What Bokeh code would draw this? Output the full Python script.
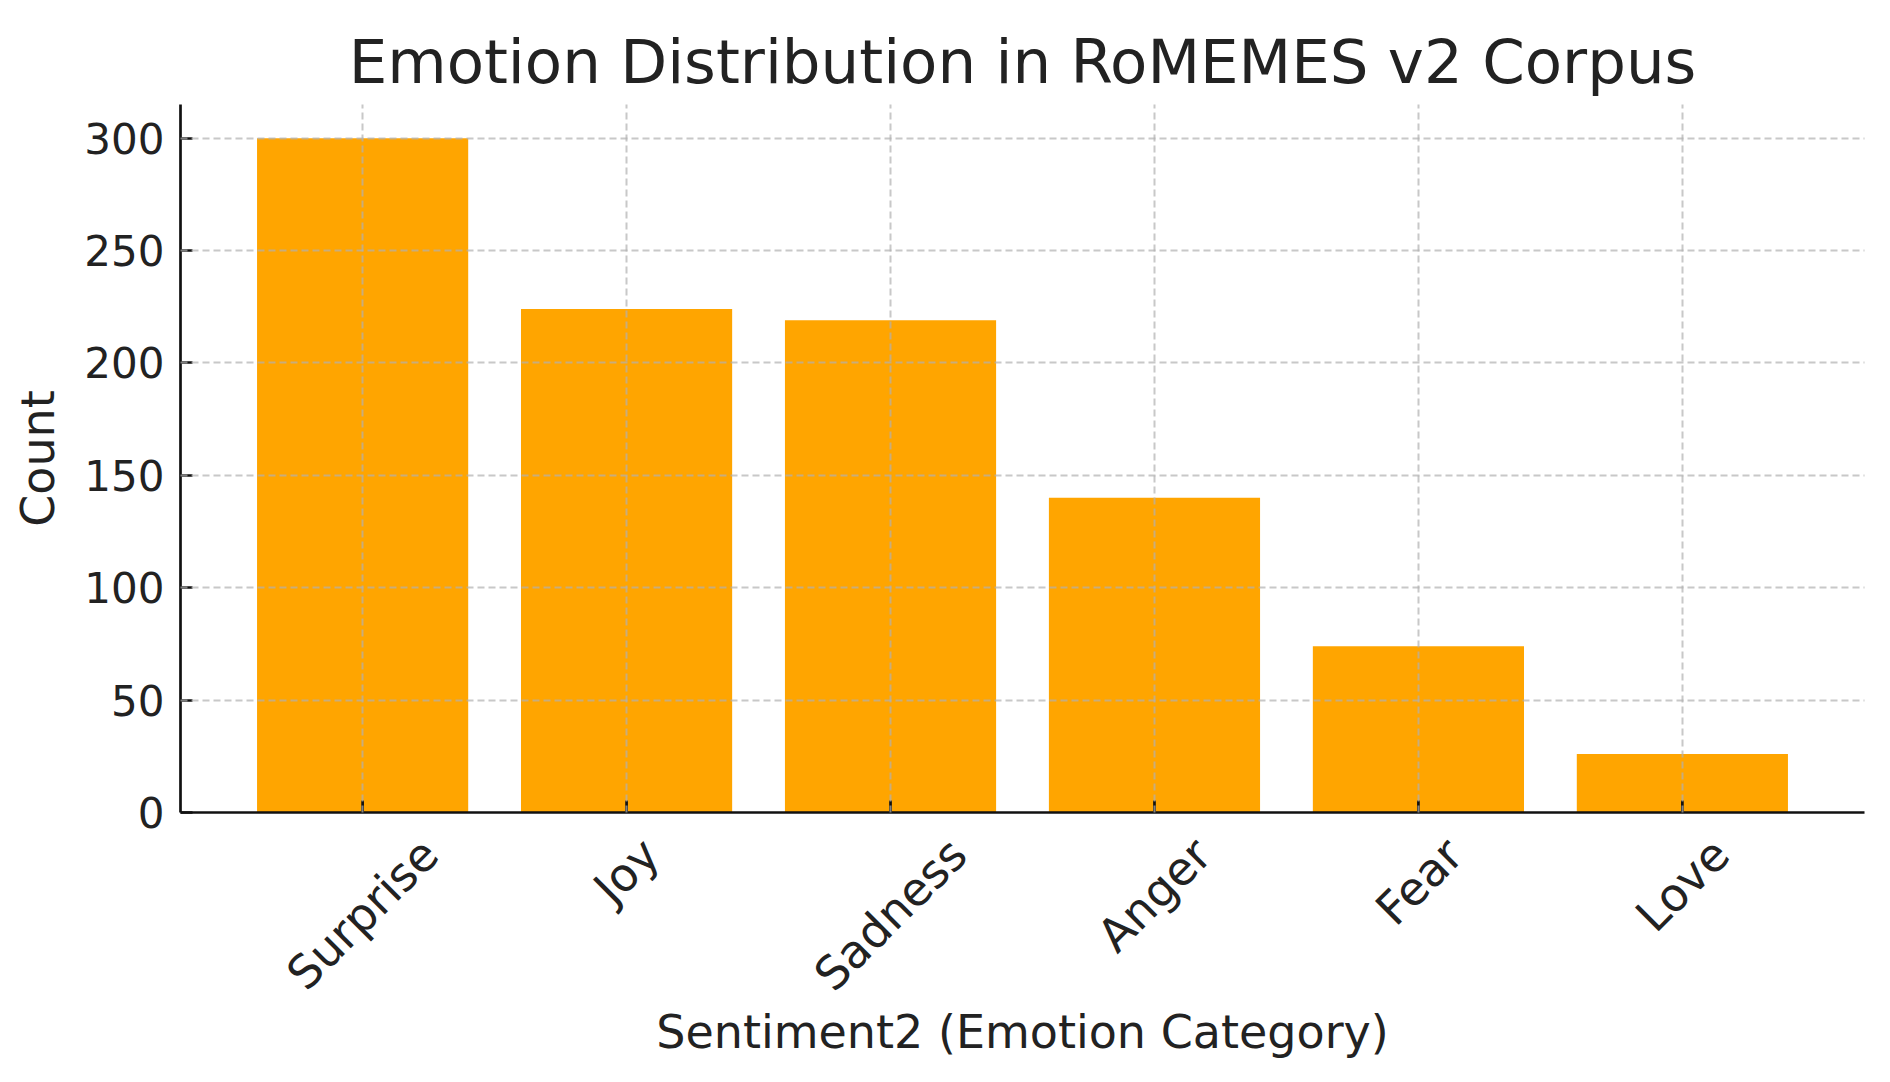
import math
from bokeh.plotting import figure
from bokeh.models import ColumnDataSource, Range1d, FixedTicker, CustomJSTickFormatter
from bokeh.embed import file_html
from bokeh.resources import INLINE

categories = ["Surprise", "Joy", "Sadness", "Anger", "Fear", "Love"]
counts = [300, 224, 219, 140, 74, 26]
y_ticks = [0, 50, 100, 150, 200, 250, 300]

FONT = "DejaVu Sans"
TXT = "#222222"
YTICK_FS = 42
XTICK_FS = 46
BAR_W = 0.8

FIG_W, FIG_H = 1874, 1066
B_LEFT, B_RIGHT, B_TOP, B_BOTTOM = 180, 10, 104, 254

# DejaVu Sans advance widths (units per 2048 em), used to centre the rotated
# category labels under their ticks the way the original renderer does.
_ADV = {"S": 1300, "u": 1298, "r": 842, "p": 1300, "i": 569, "s": 1067, "e": 1260,
        "J": 604, "o": 1253, "y": 1212, "a": 1255, "d": 1300, "n": 1298, "A": 1401,
        "g": 1300, "F": 1178, "L": 1141, "v": 1212}


def text_width(s, fs):
    return sum(_ADV.get(ch, 1200) for ch in s) / 2048.0 * fs


# bar slots (one per category) and the x range with a 5% margin, as in the original
xs = list(range(len(categories)))
lo, hi = xs[0] - BAR_W / 2, xs[-1] + BAR_W / 2
pad = 0.05 * (hi - lo)
x_start, x_end = lo - pad, hi + pad

# px per data unit across the frame -> shift of each rotated label's anchor
ppu = (FIG_W - B_LEFT - B_RIGHT) / (x_end - x_start)
label_pos = [x + text_width(c, XTICK_FS) * math.cos(math.pi / 4) / 2 / ppu
             for x, c in zip(xs, categories)]

src = ColumnDataSource(data=dict(x=xs, cat=categories, count=counts, base=[0] * len(xs)))

p = figure(
    width=FIG_W, height=FIG_H,
    x_range=Range1d(x_start, x_end),
    y_range=Range1d(0, 315),
    output_backend="svg", toolbar_location=None,
    title="Emotion Distribution in RoMEMES v2 Corpus",
    min_border_left=B_LEFT, min_border_right=B_RIGHT,
    min_border_top=B_TOP, min_border_bottom=B_BOTTOM,
)

p.vbar(x="x", top="count", width=BAR_W, source=src, fill_color="#FFA500", line_color=None)

# inward tick marks under each bar
p.ray(x="x", y="base", length=12, length_units="screen", angle=math.pi / 2,
      source=src, line_color="#111111", line_width=2.7)

p.title.text_font = FONT
p.title.text_font_size = "61px"
p.title.text_font_style = "normal"
p.title.text_color = TXT
p.title.align = "center"
p.title.standoff = 15

p.outline_line_color = None
p.background_fill_color = "white"
p.border_fill_color = "white"

for ax in (p.xaxis[0], p.yaxis[0]):
    ax.axis_line_color = "#111111"
    ax.axis_line_width = 2.7
    ax.major_tick_line_color = "#111111"
    ax.major_tick_line_width = 2.7
    ax.major_tick_in = 12
    ax.major_tick_out = 0
    ax.minor_tick_line_color = None
    ax.major_label_text_font = FONT
    ax.major_label_text_color = TXT
    ax.axis_label_text_font = FONT
    ax.axis_label_text_font_size = "46px"
    ax.axis_label_text_font_style = "normal"
    ax.axis_label_text_color = TXT

p.yaxis.ticker = FixedTicker(ticks=y_ticks)
p.yaxis.major_label_text_font_size = f"{YTICK_FS}px"
p.yaxis.axis_label = "Count"
p.yaxis.major_label_standoff = 16
p.yaxis.axis_label_standoff = 16

p.xaxis.axis_label = "Sentiment2 (Emotion Category)"
p.xaxis.ticker = FixedTicker(ticks=label_pos)
p.xaxis.formatter = CustomJSTickFormatter(args=dict(names=categories), code="return names[index];")
p.xaxis.major_label_text_font_size = f"{XTICK_FS}px"
p.xaxis.major_tick_line_color = None
p.xaxis.major_label_orientation = math.pi / 4
p.xaxis.major_label_standoff = 34
p.xaxis.axis_label_standoff = -18

for g in (p.xgrid[0], p.ygrid[0]):
    g.grid_line_color = "#b0b0b0"
    g.grid_line_alpha = 0.7
    g.grid_line_width = 2
    g.grid_line_dash = "7 4"
    g.level = "overlay"

p.xgrid.ticker = FixedTicker(ticks=xs)
p.ygrid.ticker = FixedTicker(ticks=y_ticks)

open("out.html", "w").write(file_html(p, INLINE))
